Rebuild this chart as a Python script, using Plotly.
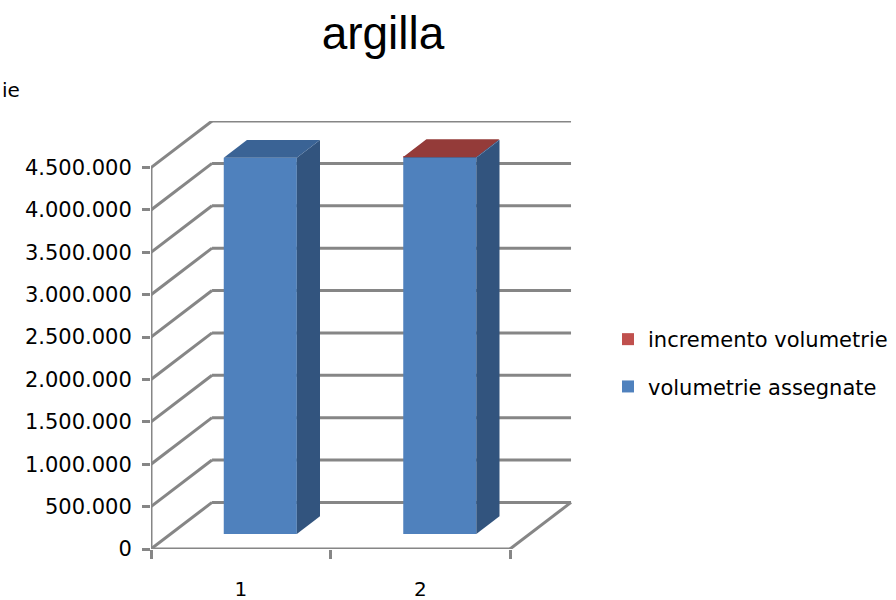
import plotly.graph_objects as go

# ---- data ----
categories = ["1", "2"]
volumetrie_assegnate = [4440000, 4440000]
incremento_volumetrie = [0, 10000]
y_ticks = [0, 500000, 1000000, 1500000, 2000000, 2500000, 3000000, 3500000, 4000000, 4500000]

# ---- 3D projection parameters (in data units) ----
DX = 0.34        # depth offset along x (category units)
DY = 550000      # depth offset along y (value units)
F0, F1 = 0.32, 0.70   # bar front/back depth fractions
BW = 0.407       # bar width
GRID = "#868686"

centers = [i + 0.5 for i in range(len(categories))]

fig = go.Figure()

shapes = []
ymax_front = y_ticks[-1]
for v in y_ticks:
    shapes.append(dict(type="line", xref="x", yref="y", x0=DX, x1=len(categories) + DX,
                       y0=v + DY, y1=v + DY, line=dict(color=GRID, width=3), layer="below"))
    shapes.append(dict(type="line", xref="x", yref="y", x0=0, x1=DX,
                       y0=v, y1=v + DY, line=dict(color=GRID, width=3), layer="below"))
shapes.append(dict(type="line", xref="x", yref="y", x0=0, x1=len(categories), y0=0, y1=0,
                   line=dict(color=GRID, width=3), layer="below"))
shapes.append(dict(type="line", xref="x", yref="y", x0=len(categories), x1=len(categories) + DX,
                   y0=0, y1=DY, line=dict(color=GRID, width=3), layer="below"))
shapes.append(dict(type="line", xref="x", yref="y", x0=0, x1=0, y0=0, y1=ymax_front,
                   line=dict(color=GRID, width=3), layer="below"))

series = [
    ("volumetrie assegnate", volumetrie_assegnate, "#4F81BD", "#3A6395", "#32547E"),
    ("incremento volumetrie", incremento_volumetrie, "#C0504D", "#943B39", "#7A2F2D"),
]

bases = []
cum = [F0 * DY] * len(categories)
for name, vals, front, top, side in series:
    bases.append(list(cum))
    cum = [c + v for c, v in zip(cum, vals)]

dbx = (F1 - F0) * DX
dby = (F1 - F0) * DY

# front faces (legend order: incremento first)
for (name, vals, front, top, side), b in reversed(list(zip(series, bases))):
    fig.add_trace(go.Bar(
        x=[c + F0 * DX for c in centers], y=vals, base=b, width=BW,
        marker=dict(color=front, line=dict(width=0)), name=name,
        legendgroup=name, hoverinfo="skip"))

for (name, vals, front, top, side), b in zip(series, bases):
    for c, v, bb in zip(centers, vals, b):
        if v <= 0:
            continue
        xl = c + F0 * DX - BW / 2
        xr = c + F0 * DX + BW / 2
        t = bb + v
        fig.add_trace(go.Scatter(
            x=[xr, xr + dbx, xr + dbx, xr, xr], y=[bb, bb + dby, t + dby, t, bb],
            fill="toself", fillcolor=side, mode="lines", line=dict(width=0),
            showlegend=False, hoverinfo="skip"))
        fig.add_trace(go.Scatter(
            x=[xl, xr, xr + dbx, xl + dbx, xl], y=[t, t, t + dby, t + dby, t],
            fill="toself", fillcolor=top, mode="lines", line=dict(width=0),
            showlegend=False, hoverinfo="skip"))

L, R, T, B = 151, 321, 121, 51
xr_max = (896 - L - R) / 179.5
fig.update_layout(
    width=896, height=600,
    margin=dict(l=L, r=R, t=T, b=B, pad=0, autoexpand=False),
    paper_bgcolor="white", plot_bgcolor="white",
    separators=",.",
    barmode="overlay",
    showlegend=True,
    title=dict(text="argilla", x=383 / 896, xref="container", xanchor="center",
               y=1 - 33 / 600, yref="container", yanchor="middle",
               font=dict(family="Liberation Sans, Arial", size=46, color="black")),
    xaxis=dict(range=[0, xr_max], tickvals=centers, ticktext=categories,
               showgrid=False, zeroline=False, showline=False, ticks="",
               ticklabelstandoff=26,
               tickfont=dict(family="DejaVu Sans", size=20, color="black"),
               minor=dict(tickvals=[0, 1, 2], ticks="outside", ticklen=9, tickwidth=3,
                          tickcolor=GRID, showgrid=False),
               fixedrange=True),
    yaxis=dict(range=[0, ymax_front + DY], tickvals=y_ticks, tickformat=",d",
               showgrid=False, zeroline=False, showline=False,
               ticks="outside", ticklen=8, tickwidth=3, tickcolor=GRID,
               ticklabelstandoff=6,
               tickfont=dict(family="DejaVu Sans", size=21, color="black"),
               fixedrange=True),
    legend=dict(x=608 / 896, y=1 - 319 / 600, xref="container", yref="container",
                xanchor="left", yanchor="top",
                traceorder="grouped", tracegroupgap=17,
                font=dict(family="DejaVu Sans", size=21, color="black"),
                bgcolor="rgba(0,0,0,0)"),
    shapes=shapes,
    annotations=[dict(text="ie", xref="paper", yref="paper", x=-L / (896 - L - R),
                      y=(549 - 90) / 428, xanchor="left", yanchor="middle", showarrow=False,
                      font=dict(family="DejaVu Sans", size=20, color="black"))],
)

fig.write_html("out.html", config={"displayModeBar": False},
               post_script="document.body.style.margin='0';")
